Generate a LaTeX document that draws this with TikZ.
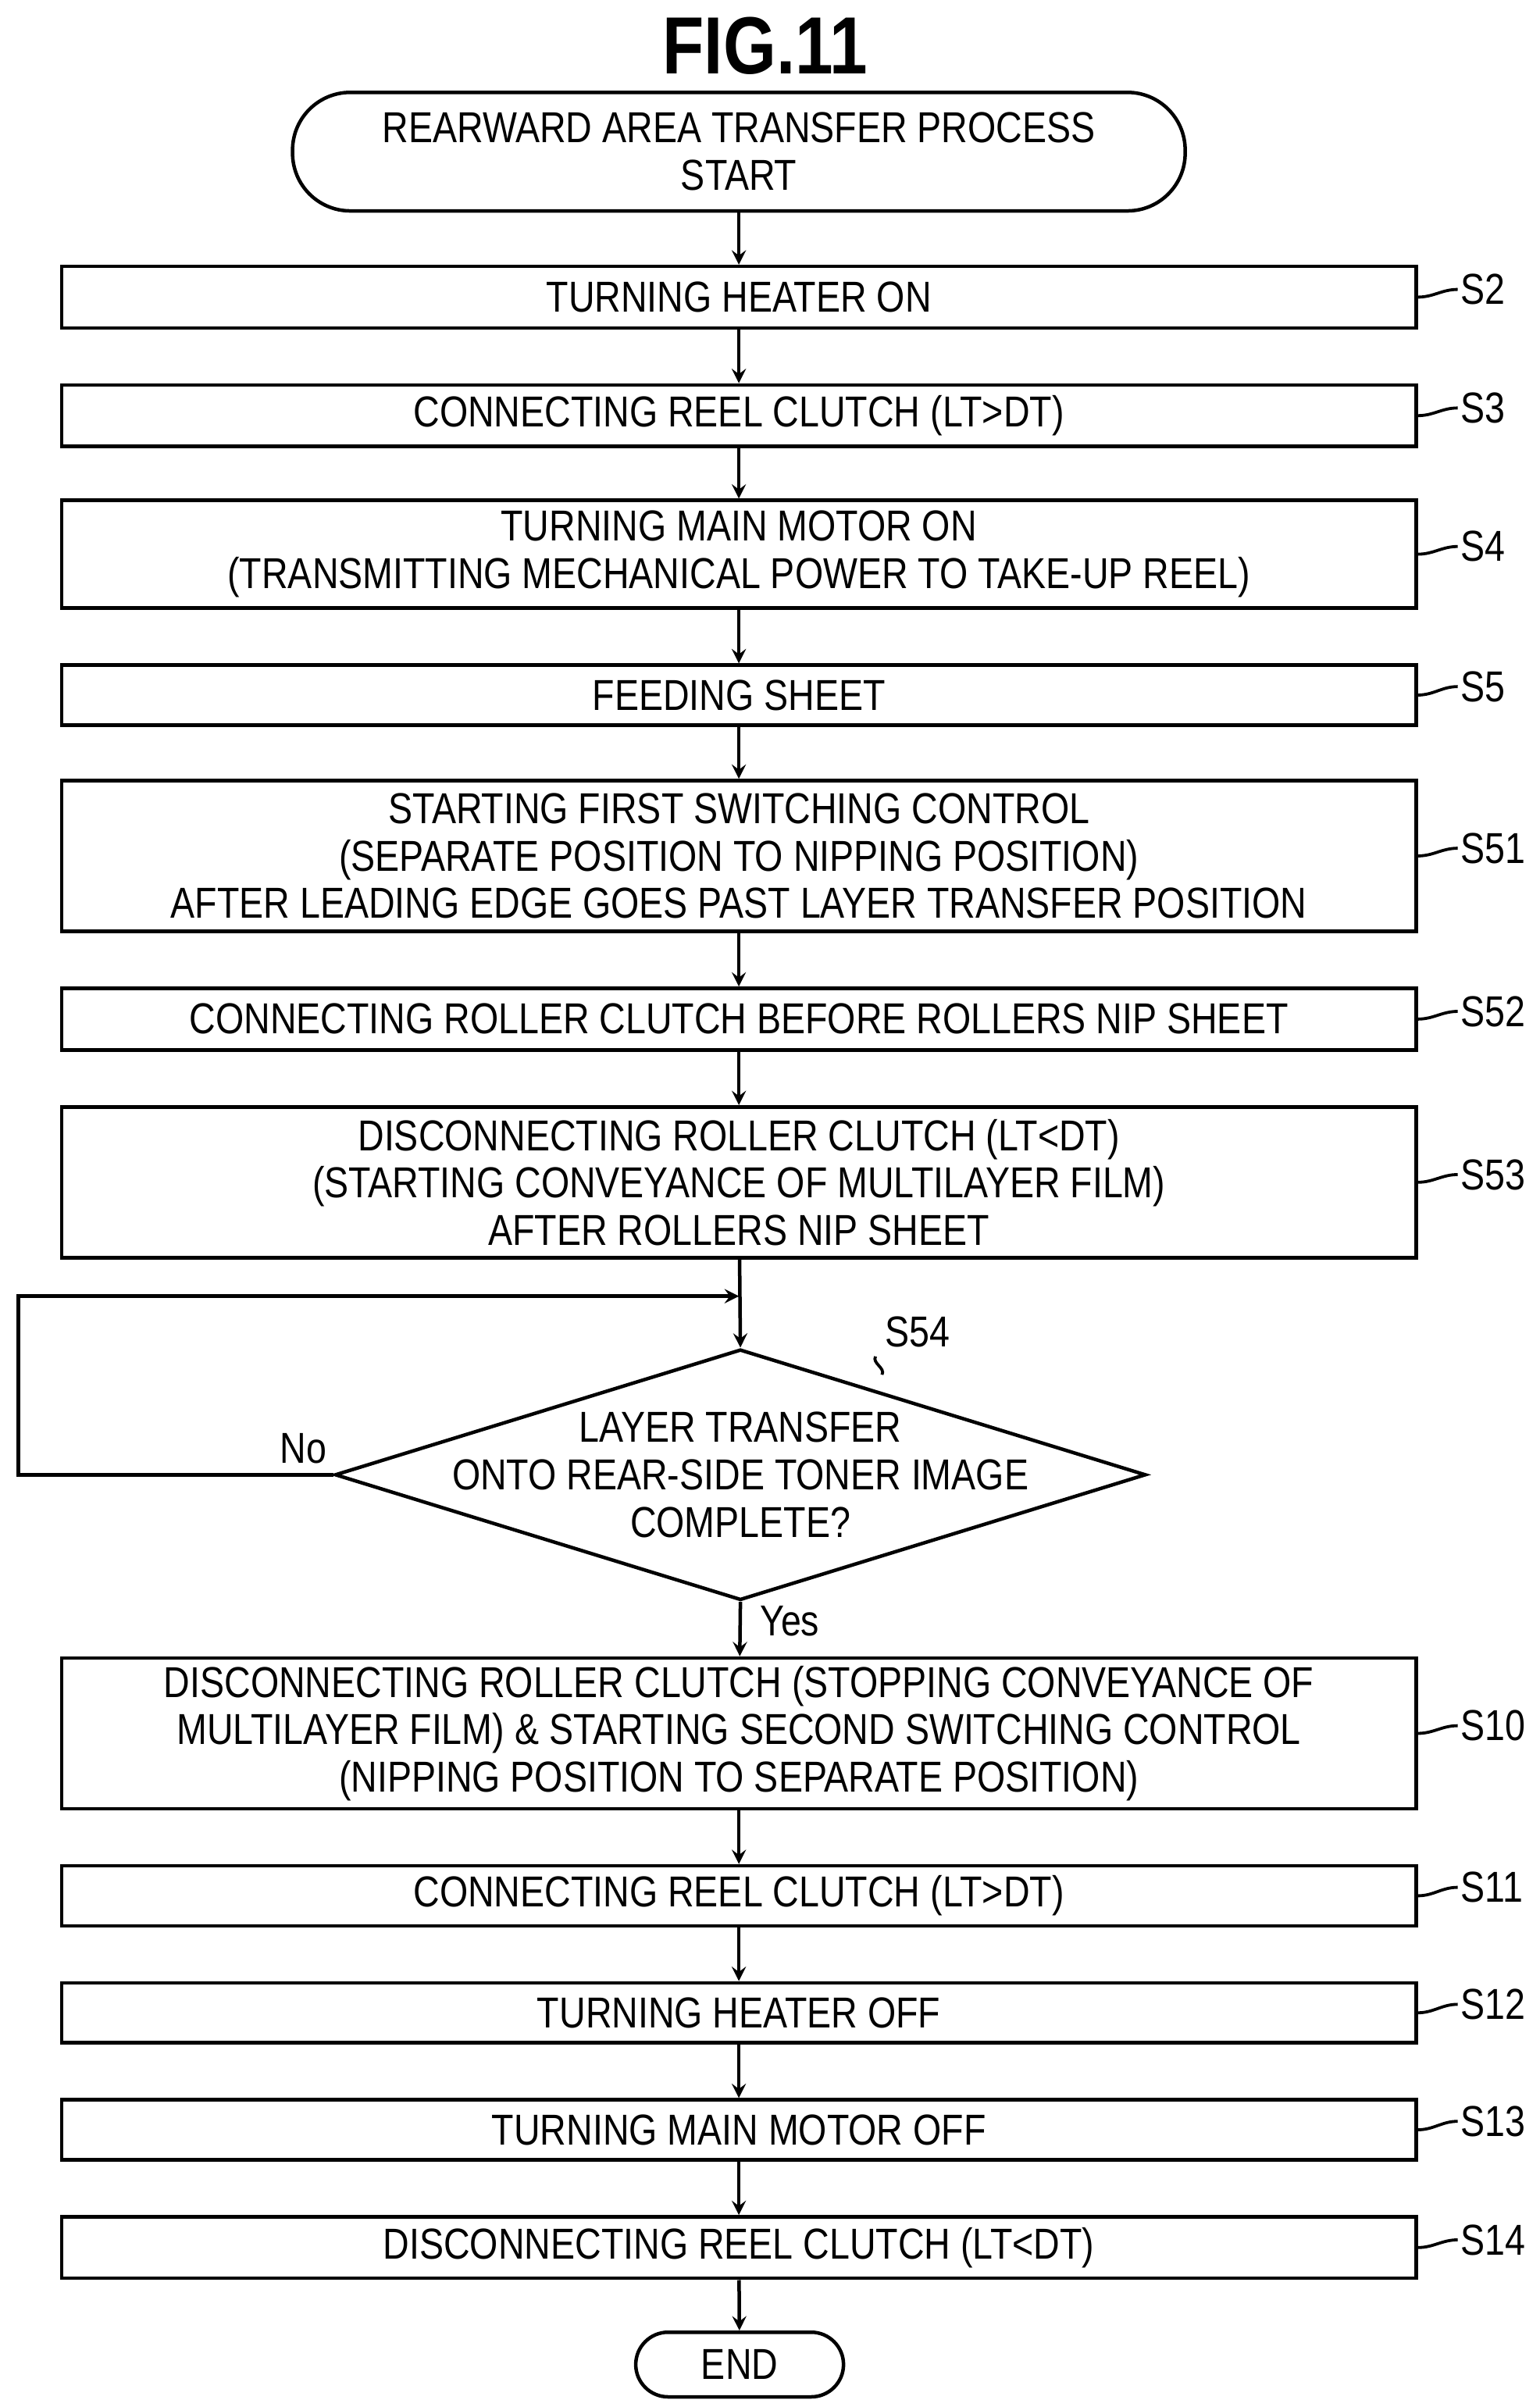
\documentclass[tikz,border=0pt]{standalone}
\usepackage{fontspec}
\setmainfont{Liberation Sans}[FakeStretch=0.84]
\usetikzlibrary{shapes.geometric}
\tikzstyle{proc} = [rectangle, draw=black, line width=1.3pt, minimum width=17.6cm, align=center, font=\fontsize{16}{17.5}\selectfont, inner sep=0pt]
\tikzstyle{term} = [rectangle, rounded corners=0.75cm, draw=black, line width=1.3pt, align=center, font=\fontsize{16}{17.5}\selectfont, inner sep=0pt]
\tikzstyle{tag} = [font=\fontsize{16}{17.5}\selectfont, anchor=west, inner sep=1pt]
\tikzstyle{arrow} = [line width=1.3pt,->,>=stealth]
\tikzstyle{lead} = [line width=1.1pt]

\begin{document}
\begin{tikzpicture}[x=0.02cm, y=-0.02cm]
\useasboundingbox (0,0) rectangle (1000,1563.6);

\node (title) at (497,30) {\fontsize{30}{32}\selectfont\bfseries FIG.11};
\node (start) [term, minimum width=11.6cm, minimum height=1.54cm] at (480,98.5) {REARWARD AREA TRANSFER PROCESS\\START};

\node (s2) [proc, minimum height=0.8cm] at (480,193) {TURNING HEATER ON};
\node (s3) [proc, minimum height=0.8cm] at (480,270) {CONNECTING REEL CLUTCH (LT>DT)};
\node (s4) [proc, minimum height=1.4cm] at (480,360) {TURNING MAIN MOTOR ON\\(TRANSMITTING MECHANICAL POWER TO TAKE-UP REEL)};
\node (s5) [proc, minimum height=0.78cm] at (480,451.5) {FEEDING SHEET};
\node (s51) [proc, minimum height=1.96cm] at (480,556) {STARTING FIRST SWITCHING CONTROL\\(SEPARATE POSITION TO NIPPING POSITION)\\AFTER LEADING EDGE GOES PAST LAYER TRANSFER POSITION};
\node (s52) [proc, minimum height=0.8cm] at (480,662) {CONNECTING ROLLER CLUTCH BEFORE ROLLERS NIP SHEET};
\node (s53) [proc, minimum height=1.96cm] at (480,768) {DISCONNECTING ROLLER CLUTCH (LT<DT)\\(STARTING CONVEYANCE OF MULTILAYER FILM)\\AFTER ROLLERS NIP SHEET};
\node (s54) [diamond, draw=black, line width=1.3pt, minimum width=10.54cm, minimum height=3.26cm, inner sep=0pt, aspect=3.2] at (481,958) {};
\node (s54txt) [align=center, font=\fontsize{16}{17.5}\selectfont] at (481,958) {LAYER TRANSFER\\ONTO REAR-SIDE TONER IMAGE\\COMPLETE?};
\node (s10) [proc, minimum height=1.96cm] at (480,1126) {DISCONNECTING ROLLER CLUTCH (STOPPING CONVEYANCE OF\\MULTILAYER FILM) \& STARTING SECOND SWITCHING CONTROL\\(NIPPING POSITION TO SEPARATE POSITION)};
\node (s11) [proc, minimum height=0.78cm] at (480,1231.5) {CONNECTING REEL CLUTCH (LT>DT)};
\node (s12) [proc, minimum height=0.78cm] at (480,1307.5) {TURNING HEATER OFF};
\node (s13) [proc, minimum height=0.78cm] at (480,1383.5) {TURNING MAIN MOTOR OFF};
\node (s14) [proc, minimum height=0.8cm] at (480,1460) {DISCONNECTING REEL CLUTCH (LT<DT)};
\node (end) [term, minimum width=2.7cm, minimum height=0.84cm, rounded corners=0.42cm] at (480.5,1536) {END};

% Arrows
\draw [arrow] (start) -- (s2);
\draw [arrow] (s2) -- (s3);
\draw [arrow] (s3) -- (s4);
\draw [arrow] (s4) -- (s5);
\draw [arrow] (s5) -- (s51);
\draw [arrow] (s51) -- (s52);
\draw [arrow] (s52) -- (s53);
\draw [arrow] (s53) -- (s54.north);
\draw [arrow] (s54.south) -- (s10);
\draw [arrow] (s10) -- (s11);
\draw [arrow] (s11) -- (s12);
\draw [arrow] (s12) -- (s13);
\draw [arrow] (s13) -- (s14);
\draw [arrow] (s14) -- (end);
\coordinate (back) at (480,842);
\draw [arrow] (s54.west) -- (12,958) -- (12,842) -- (back);
\node [font=\fontsize{16}{17.5}\selectfont] at (197,941) {No};
\node [font=\fontsize{16}{17.5}\selectfont] at (513,1053) {Yes};

% step labels
\node (t2) [tag] at (947,188) {S2};
\node (t3) [tag] at (947,265) {S3};
\node (t4) [tag] at (947,355) {S4};
\node (t5) [tag] at (947,446) {S5};
\node (t51) [tag] at (947,551) {S51};
\node (t52) [tag] at (947,657) {S52};
\node (t53) [tag] at (947,763) {S53};
\node (t10) [tag] at (947,1121) {S10};
\node (t11) [tag] at (947,1226) {S11};
\node (t12) [tag] at (947,1302) {S12};
\node (t13) [tag] at (947,1378) {S13};
\node (t14) [tag] at (947,1455) {S14};
\foreach \n in {2,3,4,5,51,52,53,10,11,12,13,14}
  \draw [lead] (s\n.east) to[out=0,in=180] (t\n.west);
\node (t54) [font=\fontsize{16}{17.5}\selectfont] at (596,865) {S54};
\draw [lead] (t54.south west) to[out=-120,in=60] (573,893);
\end{tikzpicture}
\end{document}
